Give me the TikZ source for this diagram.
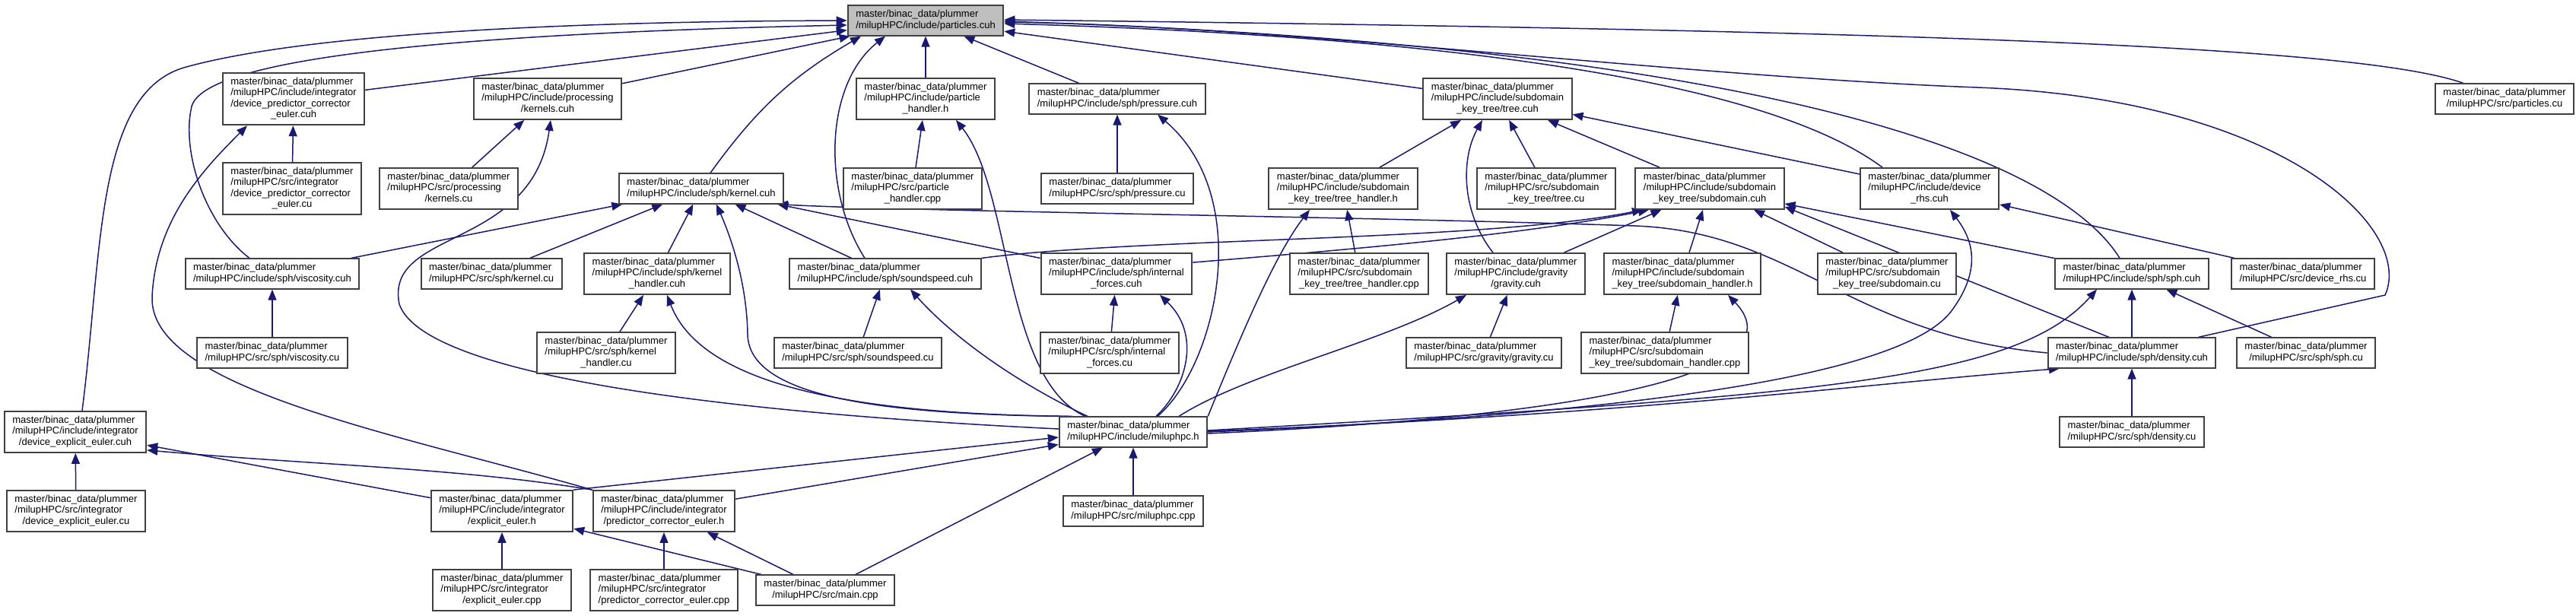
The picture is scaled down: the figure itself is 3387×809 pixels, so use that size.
\documentclass[tikz,border=0pt]{standalone}
\usepackage{fontspec}
\setmainfont{Liberation Sans}
\usetikzlibrary{arrows.meta,backgrounds}
\definecolor{dBlue}{RGB}{25,25,112}
\definecolor{dGray}{RGB}{64,64,64}
\definecolor{fGray}{RGB}{191,191,191}
\newcommand{\fpth}[2]{\begin{tabular}{@{}l@{}}master/binac\_data/plummer#1\\\multicolumn{1}{@{}c@{}}{#2}\end{tabular}}

\begin{document}
\begin{tikzpicture}[x=1pt,y=-1pt,
  fl/.style={draw=dGray,line width=2pt,fill=white,inner xsep=10.5pt,inner ysep=5pt,font=\fontsize{13}{14.6}\selectfont},
  dep/.style={draw=dBlue,line width=1.5pt,-{Triangle[length=14pt,width=11pt]}}]
  \useasboundingbox (0,0) rectangle (3387,809);
  % row 1-2
  \node[fl,fill=fGray] (pc) at (1217,27) {\fpth{}{/milupHPC/include/particles.cuh}};
  \node[fl] (dpceh) at (386,130) {\fpth{\\/milupHPC/include/integrator\\/device\_predictor\_corrector}{\_euler.cuh}};
  \node[fl] (kerh) at (720,130) {\fpth{\\/milupHPC/include/processing}{/kernels.cuh}};
  \node[fl] (phh) at (1217,130) {\fpth{\\/milupHPC/include/particle}{\_handler.h}};
  \node[fl] (prh) at (1469,130) {\fpth{}{/milupHPC/include/sph/pressure.cuh}};
  \node[fl] (treeh) at (1969,130) {\fpth{\\/milupHPC/include/subdomain}{\_key\_tree/tree.cuh}};
  \node[fl] (pcu) at (3293,130) {\fpth{}{/milupHPC/src/particles.cu}};
  % row 3
  \node[fl] (dpcec) at (384,248) {\fpth{\\/milupHPC/src/integrator\\/device\_predictor\_corrector}{\_euler.cu}};
  \node[fl] (kerc) at (590,248) {\fpth{\\/milupHPC/src/processing}{/kernels.cu}};
  \node[fl] (sknh) at (922,248) {\fpth{}{/milupHPC/include/sph/kernel.cuh}};
  \node[fl] (phc) at (1200,248) {\fpth{\\/milupHPC/src/particle}{\_handler.cpp}};
  \node[fl] (prc) at (1469,248) {\fpth{}{/milupHPC/src/sph/pressure.cu}};
  \node[fl] (thh) at (1766,248) {\fpth{\\/milupHPC/include/subdomain}{\_key\_tree/tree\_handler.h}};
  \node[fl] (treec) at (2033,248) {\fpth{\\/milupHPC/src/subdomain}{\_key\_tree/tree.cu}};
  \node[fl] (sdh) at (2248,248) {\fpth{\\/milupHPC/include/subdomain}{\_key\_tree/subdomain.cuh}};
  \node[fl] (rhsh) at (2537,248) {\fpth{\\/milupHPC/include/device}{\_rhs.cuh}};
  % row 4
  \node[fl] (visch) at (358,360) {\fpth{}{/milupHPC/include/sph/viscosity.cuh}};
  \node[fl] (sknc) at (646,360) {\fpth{}{/milupHPC/src/sph/kernel.cu}};
  \node[fl] (khh) at (864,360) {\fpth{\\/milupHPC/include/sph/kernel}{\_handler.cuh}};
  \node[fl] (ssh) at (1164,360) {\fpth{}{/milupHPC/include/sph/soundspeed.cuh}};
  \node[fl] (ifh) at (1468,360) {\fpth{\\/milupHPC/include/sph/internal}{\_forces.cuh}};
  \node[fl] (thc) at (1787,360) {\fpth{\\/milupHPC/src/subdomain}{\_key\_tree/tree\_handler.cpp}};
  \node[fl] (grh) at (1993,360) {\fpth{\\/milupHPC/include/gravity}{/gravity.cuh}};
  \node[fl] (sdhh) at (2212,360) {\fpth{\\/milupHPC/include/subdomain}{\_key\_tree/subdomain\_handler.h}};
  \node[fl] (sdc) at (2481,360) {\fpth{\\/milupHPC/src/subdomain}{\_key\_tree/subdomain.cu}};
  \node[fl] (sphh) at (2803,360) {\fpth{}{/milupHPC/include/sph/sph.cuh}};
  \node[fl] (rhsc) at (3028,360) {\fpth{}{/milupHPC/src/device\_rhs.cu}};
  % row 5
  \node[fl] (viscc) at (358,464) {\fpth{}{/milupHPC/src/sph/viscosity.cu}};
  \node[fl] (khc) at (797,464) {\fpth{\\/milupHPC/src/sph/kernel}{\_handler.cu}};
  \node[fl] (ssc) at (1128,464) {\fpth{}{/milupHPC/src/sph/soundspeed.cu}};
  \node[fl] (ifc) at (1459,464) {\fpth{\\/milupHPC/src/sph/internal}{\_forces.cu}};
  \node[fl] (grc) at (1951,464) {\fpth{}{/milupHPC/src/gravity/gravity.cu}};
  \node[fl] (sdhc) at (2189,464) {\fpth{\\/milupHPC/src/subdomain}{\_key\_tree/subdomain\_handler.cpp}};
  \node[fl] (denh) at (2803,464) {\fpth{}{/milupHPC/include/sph/density.cuh}};
  \node[fl] (sphc) at (3032,464) {\fpth{}{/milupHPC/src/sph/sph.cu}};
  % rows 6-8
  \node[fl] (deeh) at (99,568) {\fpth{\\/milupHPC/include/integrator}{/device\_explicit\_euler.cuh}};
  \node[fl] (mh) at (1490,568) {\fpth{}{/milupHPC/include/miluphpc.h}};
  \node[fl] (denc) at (2803,568) {\fpth{}{/milupHPC/src/sph/density.cu}};
  \node[fl] (deec) at (100,672) {\fpth{\\/milupHPC/src/integrator}{/device\_explicit\_euler.cu}};
  \node[fl] (eeh) at (660,672) {\fpth{\\/milupHPC/include/integrator}{/explicit\_euler.h}};
  \node[fl] (pceh) at (873,672) {\fpth{\\/milupHPC/include/integrator}{/predictor\_corrector\_euler.h}};
  \node[fl] (mc) at (1490,672) {\fpth{}{/milupHPC/src/miluphpc.cpp}};
  \node[fl] (eec) at (660,776) {\fpth{\\/milupHPC/src/integrator}{/explicit\_euler.cpp}};
  \node[fl] (pcec) at (873,776) {\fpth{\\/milupHPC/src/integrator}{/predictor\_corrector\_euler.cpp}};
  \node[fl] (main) at (1085,776) {\fpth{}{/milupHPC/src/main.cpp}};

  \begin{scope}[on background layer]
  % straight includes
  \foreach \s/\t in {dpceh/pc,kerh/pc,phh/pc,prh/pc,treeh/pc,dpcec/dpceh,kerc/kerh,phc/phh,prc/prh,
    thh/treeh,treec/treeh,sdh/treeh,rhsh/treeh,visch/sknh,sknc/sknh,khh/sknh,ssh/sknh,ifh/sknh,
    thc/thh,grh/sdh,sdhh/sdh,sdc/sdh,sphh/sdh,rhsc/rhsh,viscc/visch,khc/khh,ssc/ssh,ifc/ifh,
    grc/grh,sdhc/sdhh,denh/sphh,sphc/sphh,denc/denh,mc/mh,main/mh,pceh/mh,deec/deeh,eeh/deeh,
    eec/eeh,main/eeh,pcec/pceh,main/pceh}
    \draw[dep] (\s) -- (\t);
  % routed includes of particles.cuh
  \draw[dep] ([xshift=9pt]deeh.north) .. controls (135,330) and (125,120) .. (245,88) .. controls (420,40) and (800,28) .. (pc.west);
  \draw[dep] ([xshift=-30pt]visch.north) .. controls (270,295) and (238,200) .. (252,140) .. controls (268,80) and (560,45) .. ([yshift=-6pt]pc.west);
  \draw[dep] ([xshift=12pt]sknh.north) to[bend left=12] ([xshift=-85pt]pc.south);
  \draw[dep] ([xshift=-27pt]ssh.north) .. controls (1080,250) and (1085,110) .. ([xshift=-53pt]pc.south);
  \draw[dep] ([xshift=-62pt]rhsh.north) .. controls (2300,90) and (1800,45) .. ([yshift=-4pt]pc.east);
  \draw[dep] ([xshift=-16pt]sphh.north) .. controls (2700,200) and (2300,60) .. ([yshift=-1pt]pc.east);
  \draw[dep] ([xshift=-24pt]denh.north east) -- (3136,388) .. controls (3175,300) and (3000,130) .. (2600,115) .. controls (2200,100) and (1700,35) .. ([yshift=-2pt]pc.east);
  \draw[dep] ([xshift=-54pt]pcu.north) .. controls (3100,60) and (2500,40) .. ([yshift=1pt]pc.east);
  % integrators
  \draw[dep] (pceh.north west) .. controls (520,570) and (195,510) .. (200,390) .. controls (205,290) and (265,225) .. ([xshift=-61pt]dpceh.south);
  \draw[dep] (pceh.north west) .. controls (600,615) and (420,612) .. ([yshift=4pt]deeh.south east);
  \draw[dep] (eeh.north east) -- ([yshift=-7pt]mh.west);
  % includes of miluphpc.h
  \draw[dep] ([yshift=4pt]mh.west) .. controls (1000,545) and (560,500) .. (525,400) .. controls (505,300) and (700,330) .. ([xshift=4pt]kerh.south);
  \draw[dep] ([xshift=-63pt]mh.north) .. controls (1320,500) and (1330,250) .. ([xshift=40pt]phh.south);
  \draw[dep] ([xshift=32pt]mh.north) .. controls (1600,480) and (1650,260) .. ([xshift=53pt]prh.south);
  \draw[dep] ([xshift=-85pt]mh.north) .. controls (1150,545) and (985,520) .. (983,440) .. controls (982,370) and (960,310) .. ([xshift=20pt]sknh.south);
  \draw[dep] ([xshift=-80pt]mh.north) .. controls (1100,545) and (920,500) .. ([xshift=13pt]khh.south);
  \draw[dep] ([xshift=-60pt]mh.north) .. controls (1330,500) and (1250,440) .. ([xshift=33pt]ssh.south);
  \draw[dep] ([xshift=30pt]mh.north) .. controls (1560,510) and (1580,440) .. ([xshift=57pt]ifh.south);
  \draw[dep] (mh.north east) .. controls (1640,420) and (1680,330) .. ([xshift=-44pt]thh.south);
  \draw[dep] ([xshift=60pt]mh.north) .. controls (1640,490) and (1820,450) .. ([xshift=-65pt]grh.south);
  \draw[dep] ([yshift=-2pt]mh.east) .. controls (2150,545) and (2360,480) .. ([xshift=60pt]sdhh.south);
  \draw[dep] (mh.east) .. controls (2250,540) and (2510,480) .. (2565,410) .. controls (2610,350) and (2590,310) .. ([xshift=27pt]rhsh.south);
  \draw[dep] ([yshift=2pt]mh.east) .. controls (2400,520) and (2650,500) .. ([xshift=-46pt]sphh.south);
  \draw[dep] ([yshift=1pt]mh.east) .. controls (2150,545) and (2450,505) .. ([xshift=-95pt]denh.south);
  % subdomain, tree and kernel
  \draw[dep] (ssh.north east) .. controls (1500,312) and (1950,318) .. ([xshift=-88pt]sdh.south);
  \draw[dep] ([yshift=-13pt]ifh.north east) .. controls (1750,330) and (2000,310) .. ([xshift=-80pt]sdh.south);
  \draw[dep] ([xshift=-30pt]grh.north) .. controls (1922,280) and (1920,210) .. ([xshift=-20pt]treeh.south);
  \draw[dep] (denh.west) .. controls (2430,440) and (2360,305) .. (2150,297) .. controls (1800,285) and (1200,278) .. ([xshift=100pt]sknh.south);
  \draw[dep] ([xshift=-30pt]denh.north) -- ([yshift=4pt]sdh.south east);
  \end{scope}
\end{tikzpicture}
\end{document}
